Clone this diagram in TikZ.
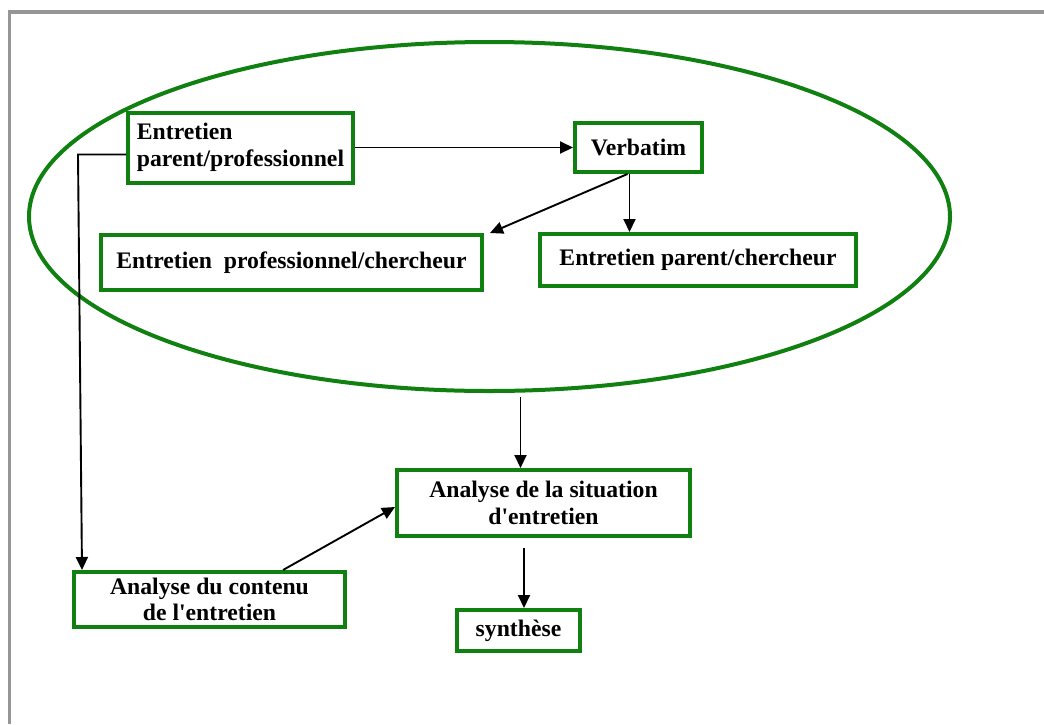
\documentclass[tikz,border=0pt]{standalone}
\usepackage{fontspec}
\setmainfont{Liberation Serif}[Ligatures=TeXOff]
\usepackage{tikz}
\usetikzlibrary{shapes.geometric, arrows.meta}
\definecolor{boxgreen}{RGB}{16,128,16}
\definecolor{framegray}{RGB}{150,150,150}

\begin{document}
\begin{tikzpicture}[
        boxnode/.style={rectangle, draw=boxgreen, line width=4pt, align=center, inner sep=0pt, font=\fontsize{23.7}{26.5}\selectfont\bfseries},
        groupnode/.style={ellipse, draw=boxgreen, line width=4pt, inner sep=0pt},
        arrow/.style = {-{Triangle[length=13pt,width=12pt]}, line width=1.9pt},
        x=1pt,y=-1pt,
    ]
    \useasboundingbox (0,0) rectangle (1044,724);
    \draw[framegray, line width=3.5pt] (9.5,724) -- (9.5,12) -- (1044,12);
    \node[groupnode, minimum width=921pt, minimum height=349pt] (grp) at (489.5,216.5) {};
    \node[boxnode, align=left, minimum width=225pt, minimum height=70pt] (pp) at (240.5,147.5) {Entretien\\parent/professionnel};
    \node[boxnode, minimum width=127pt, minimum height=49pt] (verb) at (638.5,147.5) {Verbatim};
    \node[boxnode, minimum width=381pt, minimum height=55pt] (profch) at (291.5,262.5) {Entretien\ \ professionnel/chercheur};
    \node[boxnode, minimum width=316pt, minimum height=52pt] (parch) at (698,260) {Entretien parent/chercheur};
    \node[boxnode, minimum width=293pt, minimum height=66pt] (situation) at (543.5,503) {Analyse de la situation\\d'entretien};
    \node[boxnode, minimum width=271pt, minimum height=55pt] (contenu) at (209.5,599.5) {Analyse du contenu\\de l'entretien};
    \node[boxnode, minimum width=123pt, minimum height=41pt] (synth) at (518.5,630.5) {synthèse};
    \draw [arrow] (pp) -- (verb);
    \draw [arrow] ([xshift=-11pt]verb.south) -- ([xshift=6pt]profch.north east);
    \draw [arrow] ([xshift=-9pt]verb.south) -- ([xshift=-9pt]verb.south |- parch.north);
    \draw [arrow] ([yshift=-7pt]pp.west) -- ++(-48,0) -- ([xshift=10pt]contenu.north west);
    \draw [arrow] ([xshift=31pt,yshift=-4pt]grp.south) -- ([xshift=31pt]grp.south |- situation.north);
    \draw [arrow] ([xshift=73.5pt]contenu.north) -- ([yshift=-4pt]situation.west);
    \draw [arrow] ([xshift=5.5pt,yshift=-10pt]synth.north |- situation.south) -- ([xshift=5.5pt]synth.north);
\end{tikzpicture}
\end{document}
